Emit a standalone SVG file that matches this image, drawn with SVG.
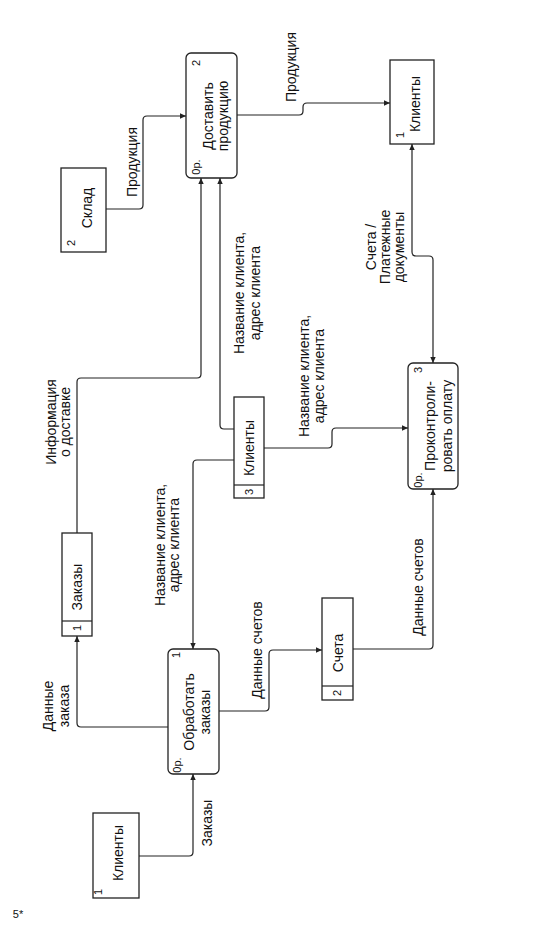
<svg xmlns="http://www.w3.org/2000/svg" width="533" height="929" viewBox="0 0 533 929">
<style>
.bg{fill:#fff}
.box{fill:#fff;stroke:#222;stroke-width:1.3}
.ln{fill:none;stroke:#222;stroke-width:1.2}
.t{font-family:"Liberation Sans",Arial,sans-serif;font-size:14px;fill:#111;text-anchor:middle;dominant-baseline:central}
.s{font-family:"Liberation Sans",Arial,sans-serif;font-size:11px;fill:#111;text-anchor:middle;dominant-baseline:central}
</style>
<defs>
<marker id="arr" viewBox="0 0 10 10" refX="10" refY="5" markerWidth="9" markerHeight="6" markerUnits="userSpaceOnUse" orient="auto-start-reverse">
<path d="M0,0.5 L10,5 L0,9.5 z" fill="#222"/>
</marker>
</defs>
<rect class="bg" x="0" y="0" width="533" height="929"/>

<g id="connectors">
<path class="ln" d="M139,856 H189 Q193,856 193,852 V774" marker-end="url(#arr)"/>
<path class="ln" d="M168,727 H81 Q77,727 77,723 V636" marker-end="url(#arr)"/>
<path class="ln" d="M77,533 V382 Q77,378 81,378 H197 Q201,378 201,374 V178" marker-end="url(#arr)"/>
<path class="ln" d="M234,429 H224 Q220,429 220,425 V178" marker-end="url(#arr)"/>
<path class="ln" d="M234,460 H197 Q193,460 193,464 V649" marker-end="url(#arr)"/>
<path class="ln" d="M264,448 H328 Q332,448 332,444 V432 Q332,428 336,428 H408" marker-end="url(#arr)"/>
<path class="ln" d="M219,711 H265 Q269,711 269,707 V654 Q269,650 273,650 H322" marker-end="url(#arr)"/>
<path class="ln" d="M353,649 H429 Q433,649 433,645 V489" marker-end="url(#arr)"/>
<path class="ln" d="M433,363 V260 Q433,256 429,256 H416 Q412,256 412,252 V144" marker-start="url(#arr)" marker-end="url(#arr)"/>
<path class="ln" d="M237,115 H299 Q303,115 303,111 V107 Q303,103 307,103 H390" marker-end="url(#arr)"/>
<path class="ln" d="M106,209 H139 Q143,209 143,205 V120 Q143,116 147,116 H186" marker-end="url(#arr)"/>
<text class="t" transform="translate(207,823) rotate(-90)">Заказы</text>
<text class="t" transform="translate(48,706) rotate(-90)">Данные</text>
<text class="t" transform="translate(64,706) rotate(-90)">заказа</text>
<text class="t" transform="translate(51,422) rotate(-90)">Информация</text>
<text class="t" transform="translate(65,422) rotate(-90)">о доставке</text>
<text class="t" transform="translate(160,545) rotate(-90)">Название клиента,</text>
<text class="t" transform="translate(174,545) rotate(-90)">адрес клиента</text>
<text class="t" transform="translate(239,293) rotate(-90)">Название клиента,</text>
<text class="t" transform="translate(255,293) rotate(-90)">адрес клиента</text>
<text class="t" transform="translate(304,376) rotate(-90)">Название клиента,</text>
<text class="t" transform="translate(319,376) rotate(-90)">адрес клиента</text>
<text class="t" transform="translate(257,650) rotate(-90)">Данные счетов</text>
<text class="t" transform="translate(418,587) rotate(-90)">Данные счетов</text>
<text class="t" transform="translate(371,247) rotate(-90)">Счета /</text>
<text class="t" transform="translate(385,247) rotate(-90)">Платежные</text>
<text class="t" transform="translate(399,247) rotate(-90)">документы</text>
<text class="t" transform="translate(291,67) rotate(-90)">Продукция</text>
<text class="t" transform="translate(132,162) rotate(-90)">Продукция</text>
</g>

<g id="ext-clients-1">
<rect class="box" x="93" y="813" width="46" height="85"/>
<text class="t" transform="translate(118,853) rotate(-90)">Клиенты</text>
<text class="s" transform="translate(98,892) rotate(-90)">1</text>
</g>

<g id="proc-1">
<rect class="box" x="168" y="649" width="51" height="125" rx="5"/>
<text class="t" transform="translate(189,712) rotate(-90)">Обработать</text>
<text class="t" transform="translate(205,712) rotate(-90)">заказы</text>
<text class="s" transform="translate(176,655) rotate(-90)">1</text>
<text class="s" transform="translate(177,765) rotate(-90)">0р.</text>
</g>

<g id="store-orders">
<rect class="box" x="62" y="533" width="30" height="103"/>
<line class="ln" x1="62" y1="621" x2="92" y2="621"/>
<text class="t" transform="translate(77,587) rotate(-90)">Заказы</text>
<text class="s" transform="translate(77,628) rotate(-90)">1</text>
</g>

<g id="store-accounts">
<rect class="box" x="322" y="598" width="31" height="102"/>
<line class="ln" x1="322" y1="686" x2="353" y2="686"/>
<text class="t" transform="translate(338,653) rotate(-90)">Счета</text>
<text class="s" transform="translate(337,693) rotate(-90)">2</text>
</g>

<g id="store-clients">
<rect class="box" x="234" y="397" width="30" height="101"/>
<line class="ln" x1="234" y1="485" x2="264" y2="485"/>
<text class="t" transform="translate(249,448) rotate(-90)">Клиенты</text>
<text class="s" transform="translate(249,492) rotate(-90)">3</text>
</g>

<g id="proc-3">
<rect class="box" x="408" y="363" width="50" height="126" rx="5"/>
<text class="t" transform="translate(430,426) rotate(-90)">Проконтроли-</text>
<text class="t" transform="translate(447,426) rotate(-90)">ровать оплату</text>
<text class="s" transform="translate(418,370) rotate(-90)">3</text>
<text class="s" transform="translate(418,480) rotate(-90)">0р.</text>
</g>

<g id="proc-2">
<rect class="box" x="186" y="53" width="51" height="125" rx="5"/>
<text class="t" transform="translate(208,116) rotate(-90)">Доставить</text>
<text class="t" transform="translate(223,116) rotate(-90)">продукцию</text>
<text class="s" transform="translate(196,63) rotate(-90)">2</text>
<text class="s" transform="translate(196,167) rotate(-90)">0р.</text>
</g>

<g id="ext-clients-top">
<rect class="box" x="390" y="60" width="44" height="84"/>
<text class="t" transform="translate(415,104) rotate(-90)">Клиенты</text>
<text class="s" transform="translate(400,135) rotate(-90)">1</text>
</g>

<g id="ext-warehouse">
<rect class="box" x="61" y="168" width="45" height="84"/>
<text class="t" transform="translate(87,208) rotate(-90)">Склад</text>
<text class="s" transform="translate(71,243) rotate(-90)">2</text>
</g>

<text class="s" x="18" y="914">5*</text>
</svg>
